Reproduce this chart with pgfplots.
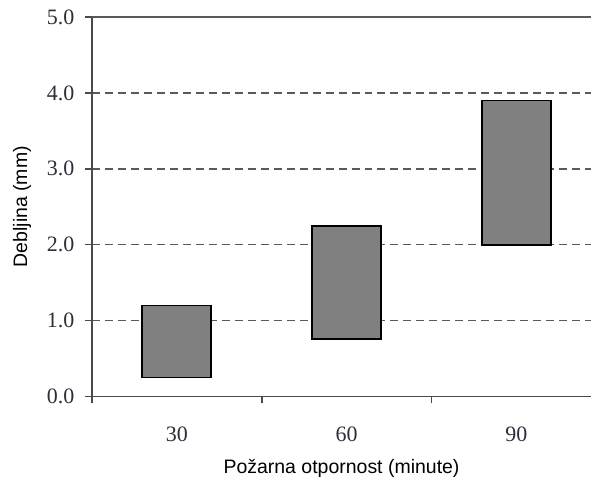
\documentclass[border=0pt]{standalone}
\usepackage{pgfplots}
\pgfplotsset{compat=1.18}
\usepackage{fontspec}
\setmainfont{Liberation Sans}
\newfontfamily\tickfont{Liberation Serif}
\definecolor{gridgray}{HTML}{5A5A5A}
\definecolor{axisgray}{HTML}{4A4A4A}
\definecolor{barfill}{HTML}{808080}
\definecolor{ticktext}{HTML}{2E2E3A}
\begin{document}
\begin{tikzpicture}
\begin{axis}[
  scale only axis,
  width=500pt, height=380pt,
  xmin=0.5, xmax=3.44,
  ymin=0, ymax=5,
  axis x line*=bottom,
  axis y line*=left,
  axis line style={axisgray, line width=1.6pt, -},
  ytick={0,1,2,3,4,5},
  yticklabel style={/pgf/number format/fixed, /pgf/number format/fixed zerofill, /pgf/number format/precision=1, font=\tickfont\fontsize{22}{24}\selectfont, text=ticktext, xshift=-7pt},
  /pgf/number format/assume math mode=true,
  xtick={0.5,1.5,2.5},
  xticklabels={},
  extra x ticks={1,2,3},
  extra x tick labels={30,60,90},
  extra x tick style={grid=none, major tick length=0pt, tick style={draw=none}, xticklabel style={font=\tickfont\fontsize{22}{24}\selectfont, text=ticktext, yshift=-27pt}},
  tick align=outside,
  major tick length=7pt,
  tick style={axisgray, line width=1.6pt},
  ymajorgrids,
  grid style={gridgray, line width=1.6pt, dash pattern=on 8pt off 5pt},
  ylabel={Debljina (mm)},
  xlabel={Požarna otpornost (minute)},
  label style={font=\fontsize{19.5}{22}\selectfont},
  ylabel style={at={(axis description cs:-0.14,0.5)}, anchor=center},
  xlabel style={yshift=-4pt},
  ybar stacked,
  bar width=69pt,
  clip=false,
]
\addplot[draw=none, fill=none] coordinates {(1,0.25) (2,0.76) (3,2.0)};
\addplot[draw=black, fill=barfill, line width=1.7pt] coordinates {(1,0.95) (2,1.49) (3,1.9)};
\draw[gridgray, line width=1.6pt] (rel axis cs:0,1) -- (rel axis cs:1,1);
\end{axis}
\path (-92pt,-80pt) rectangle (500pt,397pt);
\end{tikzpicture}
\end{document}
